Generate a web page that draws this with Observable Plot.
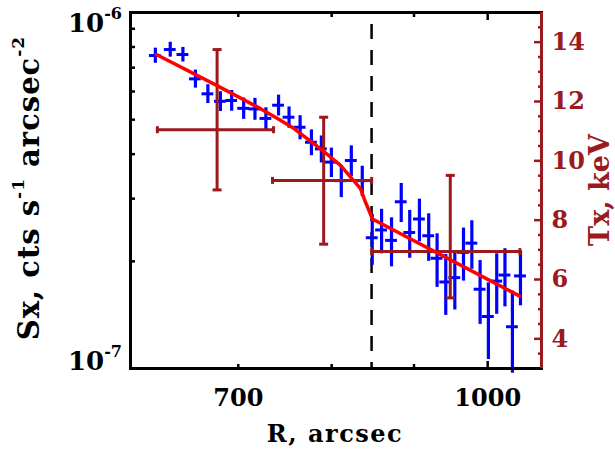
<!DOCTYPE html>
<html>
<head>
<meta charset="utf-8">
<script src="https://cdn.jsdelivr.net/npm/d3@7"></script>
<script src="https://cdn.jsdelivr.net/npm/@observablehq/plot@0.6"></script>
<style>
html,body{margin:0;padding:0;background:#fff;}
#chart{position:relative;width:615px;height:454px;overflow:hidden;background:#fff;}
#chart svg{position:absolute;left:0;top:0;}
</style>
</head>
<body>
<div id="chart"></div>
<script>
// ---------- data ----------
// surface-brightness profile (R in arcsec, Sx in 1e-7 cts s^-1 arcsec^-2, 1-sigma error)
const radius = [621.7, 635.1, 646.7, 658.4, 670.2, 682.3, 693.4, 705.4, 716.9, 728.2, 741.5, 752.7, 764.7, 777.2, 788.3, 799.7, 811.1, 822.8, 835.8, 847.8, 859.2, 871.5, 883.7, 894.5, 907.0, 919.1, 930.2, 941.8, 954.1, 966.0, 977.6, 989.2, 1001, 1013, 1025, 1036, 1048];
const surfBright = [7.57, 7.87, 7.62, 6.51, 5.91, 5.63, 5.66, 5.38, 5.36, 5.04, 5.49, 5.08, 4.76, 4.32, 4.14, 3.80, 3.37, 3.84, 3.37, 2.33, 2.45, 2.29, 2.94, 2.41, 2.63, 2.36, 2.04, 1.75, 1.80, 2.12, 2.25, 1.67, 1.40, 1.76, 1.83, 1.31, 1.82];
const surfBrightErr = [0.37, 0.38, 0.36, 0.38, 0.36, 0.36, 0.38, 0.37, 0.38, 0.36, 0.37, 0.35, 0.37, 0.36, 0.36, 0.36, 0.35, 0.38, 0.33, 0.38, 0.35, 0.36, 0.37, 0.37, 0.36, 0.36, 0.35, 0.34, 0.34, 0.36, 0.35, 0.34, 0.34, 0.34, 0.34, 0.34, 0.32];
const binHalfFrac = 0.0085;   // relative half-width of radial bins
const sbUnit = 1e-7;

// best-fit model (broken power law)
const modelR  = [622.6, 679.1, 723.0, 740.4, 758.1, 791.1, 810.2, 824.3, 833.7, 839.7, 844.4, 848.0, 1046.3];
const modelSx = [7.62, 6.23, 5.36, 5.04, 4.72, 4.07, 3.72, 3.40, 3.20, 2.93, 2.76, 2.63, 1.60];

// temperature (keV), right axis
const tempR     = [679.1, 790.9, 947.9];
const tempRLow  = [623.5, 735.1, 847.1];
const tempRHigh = [736.2, 847.1, 1047.1];
const temp      = [11.05, 9.34, 6.94];
const tempLow   = [9.02, 7.19, 5.38];
const tempHigh  = [13.75, 11.47, 9.51];

// jump radius
const jumpRadius = 847;

// axes
const xDomain = [600, 1080];
const sxDomain = [1e-7, 1e-6];
const tDomain = [3, 15];
const xMinorTicks = [700, 800, 900];
const xMajorTicks = [1000];
const xLabelTicks = [700, 1000];
const sxMinorTicks = [2e-7, 3e-7, 4e-7, 5e-7, 6e-7, 7e-7, 8e-7, 9e-7];
const sxLabels = [{v: 1e-6, base: "10", exp: "-6"}, {v: 1e-7, base: "10", exp: "-7"}];
const tMajorTicks = [4, 6, 8, 10, 12, 14];
const tMinorTicks = [3.5, 4.5, 5, 5.5, 6.5, 7, 7.5, 8.5, 9, 9.5, 10.5, 11, 11.5, 12.5, 13, 13.5, 14.5];

// ---------- styles ----------
const blue = "#0000ff", red = "#ff0000", brown = "#9a1a1e";
const FONT = "DejaVu Serif";
const layout = {width: 615, height: 454, marginTop: 12, marginRight: 74, marginBottom: 86, marginLeft: 130};
const baseStyle = {background: "transparent", fontFamily: FONT, fontWeight: "bold", fontSize: "24px", overflow: "visible"};
const xOpt = {type: "log", domain: xDomain, axis: null};

const hCap = {draw(ctx, size) { const r = Math.sqrt(size / Math.PI); ctx.moveTo(-r, 0); ctx.lineTo(r, 0); }};
const vCap = {draw(ctx, size) { const r = Math.sqrt(size / Math.PI); ctx.moveTo(0, -r); ctx.lineTo(0, r); }};

const sxData = radius.map((r, i) => ({r, v: surfBright[i] * sbUnit, e: surfBrightErr[i] * sbUnit}));
const modelData = modelR.map((r, i) => ({r, v: modelSx[i] * sbUnit}));
const tData = tempR.map((r, i) => ({r, t: temp[i], lo: tempLow[i], hi: tempHigh[i], r1: tempRLow[i], r2: tempRHigh[i]}));

// Layer A: surface brightness points, frame, x axes, left axis
const plotA = Plot.plot({
  ...layout,
  style: {...baseStyle, color: "black"},
  x: xOpt,
  y: {type: "log", domain: sxDomain, axis: null},
  marks: [
    Plot.ruleX([jumpRadius], {stroke: "black", strokeWidth: 2.5, strokeDasharray: "15,11", strokeDashoffset: 14}),
    Plot.ruleX(sxData, {x: "r", y1: d => d.v - d.e, y2: d => d.v + d.e, stroke: blue, strokeWidth: 3.2}),
    Plot.ruleY(sxData, {y: "v", x1: d => d.r / (1 + binHalfFrac), x2: d => d.r * (1 + binHalfFrac), stroke: blue, strokeWidth: 3}),
    Plot.frame({stroke: "black", strokeWidth: 3}),
    Plot.axisX({anchor: "bottom", ticks: xMinorTicks, tickSize: -4, tickFormat: () => "", label: null, strokeWidth: 2.5}),
    Plot.axisX({anchor: "bottom", ticks: xMajorTicks, tickSize: -7, tickFormat: () => "", label: null, strokeWidth: 2.5}),
    Plot.axisX({anchor: "top", ticks: xMinorTicks, tickSize: -4, tickFormat: () => "", label: null, strokeWidth: 2.5}),
    Plot.axisX({anchor: "top", ticks: xMajorTicks, tickSize: -7, tickFormat: () => "", label: null, strokeWidth: 2.5}),
    Plot.axisX({anchor: "bottom", ticks: xLabelTicks, tickSize: 0, tickPadding: 20, tickFormat: d => String(d), label: null}),
    Plot.axisY({anchor: "left", ticks: sxMinorTicks, tickSize: -5, tickFormat: () => "", label: null, strokeWidth: 2.5})
  ]
});

// Layer B: temperature points and right axis
const plotB = Plot.plot({
  ...layout,
  style: {...baseStyle, color: brown},
  x: xOpt,
  y: {type: "linear", domain: tDomain, axis: null},
  marks: [
    Plot.ruleX(tData, {x: "r", y1: "lo", y2: "hi", stroke: brown, strokeWidth: 3}),
    Plot.ruleY(tData, {y: "t", x1: "r1", x2: "r2", stroke: brown, strokeWidth: 3}),
    Plot.dot(tData, {x: "r", y: "lo", symbol: hCap, r: 4.5, fill: "none", stroke: brown, strokeWidth: 3}),
    Plot.dot(tData, {x: "r", y: "hi", symbol: hCap, r: 4.5, fill: "none", stroke: brown, strokeWidth: 3}),
    Plot.dot(tData, {x: "r1", y: "t", symbol: vCap, r: 3.5, fill: "none", stroke: brown, strokeWidth: 3}),
    Plot.dot(tData, {x: "r2", y: "t", symbol: vCap, r: 3.5, fill: "none", stroke: brown, strokeWidth: 3}),
    Plot.ruleX([xDomain[1]], {stroke: brown, strokeWidth: 3}),
    Plot.axisY({anchor: "right", ticks: tMinorTicks, tickSize: -4, tickFormat: () => "", label: null, strokeWidth: 2.5}),
    Plot.axisY({anchor: "right", ticks: tMajorTicks, tickSize: -8, tickFormat: () => "", label: null, strokeWidth: 2.5}),
    Plot.axisY({anchor: "right", ticks: tMajorTicks, tickSize: 0, tickPadding: 10, tickFormat: d => String(d), label: null})
  ]
});

// Layer C: model line
const plotC = Plot.plot({
  ...layout,
  style: {...baseStyle},
  x: xOpt,
  y: {type: "log", domain: sxDomain, axis: null},
  marks: [
    Plot.line(modelData, {x: "r", y: "v", stroke: red, strokeWidth: 3.5, strokeLinejoin: "round"})
  ]
});

const chart = document.getElementById("chart");
chart.append(plotA, plotB, plotC);

// ---------- text with superscripts ----------
const svg = d3.select(plotC);
const yS = plotA.scale("y");
sxLabels.forEach((d, i) => {
  const y = yS.apply(d.v) + (i === 0 ? 20 : 2);
  const t = svg.append("text").attr("x", 68).attr("y", y)
    .attr("text-anchor", "start").attr("fill", "black")
    .style("font-family", FONT).style("font-weight", "bold").style("font-size", "26px");
  t.append("tspan").text(d.base);
  t.append("tspan").attr("dy", -13).style("font-size", "16px").text(d.exp);
});

// x title
svg.append("text").attr("x", 335).attr("y", 442).attr("text-anchor", "middle").attr("fill", "black")
  .style("font-family", FONT).style("font-weight", "bold").style("font-size", "24px").style("letter-spacing", "1.5px")
  .text("R, arcsec");

// left y title
const yl = svg.append("text").attr("transform", "translate(39,188) rotate(-90)")
  .attr("text-anchor", "middle").attr("fill", "black")
  .style("font-family", FONT).style("font-weight", "bold").style("font-size", "29px").style("letter-spacing", "1px");
yl.append("tspan").text("Sx, cts s");
yl.append("tspan").attr("dy", -15).style("font-size", "17px").text("-1");
yl.append("tspan").attr("dy", 15).text(" arcsec");
yl.append("tspan").attr("dy", -15).style("font-size", "17px").text("-2");

// right y title
svg.append("text").attr("transform", "translate(609,190) rotate(-90)")
  .attr("text-anchor", "middle").attr("fill", brown)
  .style("font-family", FONT).style("font-weight", "bold").style("font-size", "27px")
  .text("Tx, keV");
</script>
</body>
</html>
